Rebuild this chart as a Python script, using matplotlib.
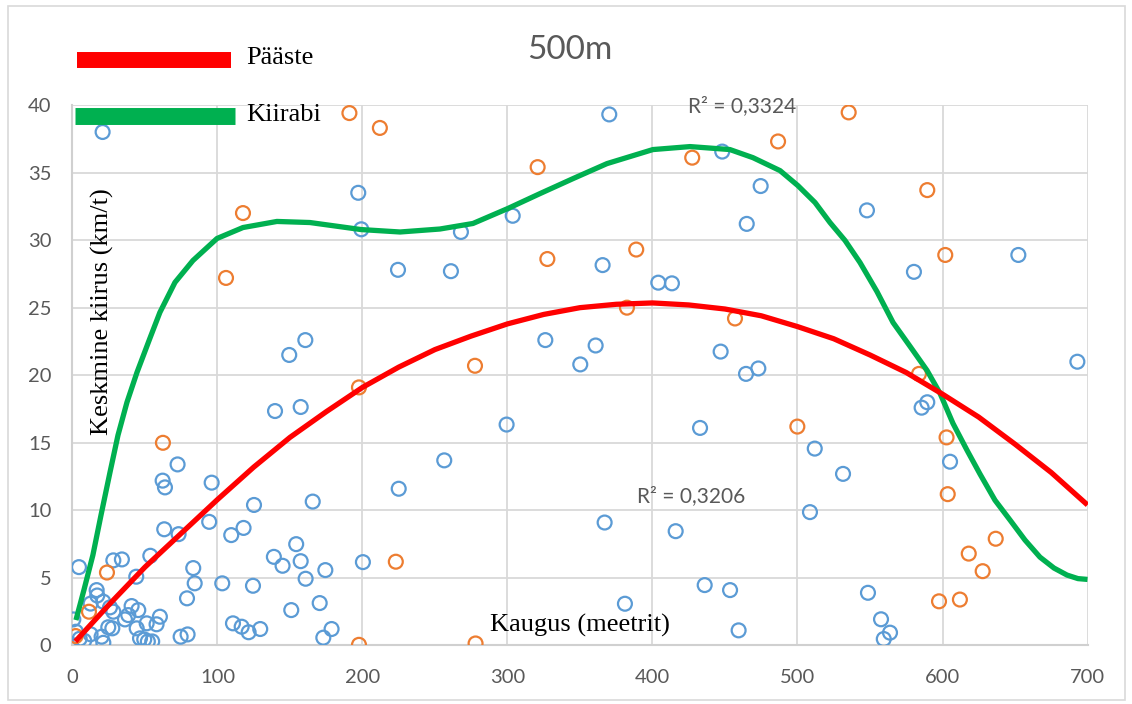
import numpy as np
import matplotlib.pyplot as plt
from matplotlib.lines import Line2D
from matplotlib.patches import Rectangle

# Kiirabi (ambulance) trips: distance in m, mean speed in km/h
kiirabi_x = [20.8, 197.1, 199.2, 224.5, 160.6, 149.5, 139.7, 157.4, 72.5, 62.2,
             63.8, 96.0, 125.2, 165.7, 225.0, 63.3, 73.2, 94.3, 109.5, 118.0,
             154.3, 138.9, 144.9, 157.4, 160.8, 174.4, 200.3, 53.7, 34.1, 28.2,
             4.5, 44.0, 83.3, 84.3, 103.3, 124.5, 79.0, 150.9, 170.5, 110.7,
             116.7, 121.5, 129.5, 178.7, 173.0, 74.6, 79.4,
             370.2, 448.1, 303.6, 267.9, 261.0, 365.6, 404.0, 413.4, 326.1, 360.8,
             350.2, 447.0, 474.6, 465.0, 547.9, 580.3, 652.3, 693.0, 464.5, 473.0,
             299.4, 256.4, 432.8, 367.0, 416.0, 381.0, 436.0, 453.5, 585.6, 589.5,
             511.9, 531.4, 605.2, 508.6, 459.4, 548.6, 557.6, 563.8, 559.5,
             16.7, 17.1, 12.5, 21.3, 25.9, 28.2, 40.8, 45.4, 38.5, 36.2,
             51.2, 44.3, 60.3, 58.0, 24.7, 27.5, 46.6, 49.5, 52.0, 55.0,
             21.3, 8.1, 0.6, 2.4, 12.5, 20.1, 5.0]
kiirabi_y = [38.0, 33.5, 30.8, 27.8, 22.6, 21.5, 17.35, 17.65, 13.4, 12.2,
             11.7, 12.05, 10.4, 10.65, 11.6, 8.6, 8.24, 9.15, 8.17, 8.7,
             7.5, 6.56, 5.9, 6.24, 4.94, 5.58, 6.17, 6.64, 6.37, 6.3,
             5.8, 5.09, 5.73, 4.6, 4.6, 4.42, 3.49, 2.62, 3.14, 1.64,
             1.39, 0.98, 1.22, 1.22, 0.58, 0.65, 0.82,
             39.3, 36.55, 31.8, 30.6, 27.7, 28.15, 26.85, 26.8, 22.6, 22.2,
             20.8, 21.75, 34.0, 31.2, 32.2, 27.65, 28.9, 21.0, 20.1, 20.5,
             16.35, 13.7, 16.1, 9.1, 8.46, 3.09, 4.47, 4.1, 17.6, 18.0,
             14.57, 12.7, 13.6, 9.87, 1.12, 3.9, 1.94, 0.95, 0.48,
             4.1, 3.7, 3.1, 3.24, 2.82, 2.5, 2.92, 2.62, 2.25, 1.93,
             1.64, 1.27, 2.13, 1.57, 1.35, 1.27, 0.53, 0.45, 0.3, 0.3,
             0.2, 0.35, 1.93, 1.02, 0.83, 0.65, 0.5]

# Pääste (rescue) trips
paaste_x = [191.0, 212.0, 117.6, 105.9, 62.4, 23.8, 11.4, 2.2, 197.6, 223.0,
            197.6, 278.0, 277.6, 320.8, 327.5, 388.8, 382.4, 427.4, 486.6, 535.3,
            589.5, 601.9, 456.9, 499.9, 583.8, 602.8, 603.6, 636.7, 618.1, 627.7,
            597.6, 612.0]
paaste_y = [39.4, 38.3, 32.0, 27.2, 15.0, 5.4, 2.5, 0.7, 19.1, 6.2,
            0.05, 0.15, 20.7, 35.4, 28.6, 29.3, 25.0, 36.1, 37.3, 39.45,
            33.7, 28.9, 24.2, 16.2, 20.1, 15.4, 11.2, 7.9, 6.8, 5.5,
            3.27, 3.4]

# polynomial trend lines, sampled along x
red_trend_x = [2, 25, 50, 75, 100, 125, 150, 175, 200, 225, 250, 275, 300, 325, 350,
               375, 400, 425, 450, 475, 500, 525, 550, 575, 600, 625, 650, 675, 700]
red_trend_y = [0.3, 3.0, 5.8, 8.3, 10.8, 13.2, 15.4, 17.3, 19.1, 20.6, 21.9, 22.9, 23.8,
               24.5, 25.0, 25.25, 25.35, 25.2, 24.9, 24.4, 23.6, 22.7, 21.5, 20.2, 18.6,
               16.9, 14.9, 12.8, 10.4]
green_trend_x = [2.4, 7.9, 14.1, 19.7, 25.9, 31.4, 37.6, 44.5, 53.4, 60.3, 70.7, 83.1,
                 99.7, 117.6, 141.0, 163.8, 199.0, 225.9, 253.4, 276.2, 300.3, 322.4,
                 345.2, 368.6, 400.3, 425.9, 453.4, 469.3, 488.0, 500.3, 512.1, 522.4,
                 532.8, 543.1, 554.8, 565.9, 577.6, 589.3, 598.3, 607.2, 616.9, 625.9,
                 636.2, 646.6, 656.9, 667.2, 676.9, 685.9, 693.4, 700.0]
green_trend_y = [1.88, 4.10, 6.69, 9.65, 12.82, 15.56, 18.0, 20.21, 22.73, 24.65, 26.87,
                 28.49, 30.12, 30.93, 31.38, 31.3, 30.78, 30.6, 30.82, 31.23, 32.34,
                 33.44, 34.55, 35.66, 36.7, 36.92, 36.7, 36.1, 35.14, 34.03, 32.78, 31.3,
                 29.97, 28.34, 26.19, 23.9, 22.14, 20.36, 18.66, 16.44, 14.45, 12.68,
                 10.75, 9.28, 7.80, 6.54, 5.73, 5.21, 4.95, 4.89]

r2_green = "R² = 0,3324"
r2_red = "R² = 0,3206"

sans = "Lato"
serif = "Liberation Serif"
grey = "#595959"

fig = plt.figure(figsize=(11.32, 7.04), dpi=100)
ax = fig.add_axes([0.064, 0.0831, 0.8967, 0.7678])

ax.scatter(kiirabi_x, kiirabi_y, s=100, facecolors="none", edgecolors="#5b9bd5",
           linewidths=1.6, zorder=3)
ax.scatter(paaste_x, paaste_y, s=100, facecolors="none", edgecolors="#ed7d31",
           linewidths=1.6, zorder=3)
ax.plot(green_trend_x, green_trend_y, color="#00b050", lw=3.8, zorder=4,
        solid_capstyle="butt", solid_joinstyle="round")
ax.plot(red_trend_x, red_trend_y, color="#ff0000", lw=3.8, zorder=4,
        solid_capstyle="butt", solid_joinstyle="round")

ax.set_xlim(0, 700)
ax.set_ylim(0, 40)
ax.set_xticks(np.arange(0, 701, 100))
ax.set_yticks(np.arange(0, 41, 5))
ax.grid(True, color="#d9d9d9", lw=1.3)
ax.set_axisbelow(True)
for side in ["top", "right"]:
    ax.spines[side].set_visible(False)
for side in ["left", "bottom"]:
    ax.spines[side].set_color("#d0d0d0")
    ax.spines[side].set_linewidth(1.5)
ax.tick_params(length=0, labelsize=14.5, labelcolor=grey)
ax.tick_params(axis="x", pad=17)
ax.tick_params(axis="y", pad=15)
for lbl in ax.get_xticklabels() + ax.get_yticklabels():
    lbl.set_fontfamily(sans)

ax.text(424.5, 39.88, r2_green, fontsize=15, color=grey, family=sans, va="center")
ax.text(389.3, 11.05, r2_red, fontsize=15, color=grey, family=sans, va="center")
ax.text(350, 1.5, "Kaugus (meetrit)", fontsize=19, family=serif, ha="center", va="center")
ax.text(20.5, 24.7, "Keskmine kiirus (km/t)", fontsize=19, family=serif,
        rotation=90, ha="center", va="center")

fig.text(0.503, 1 - 50 / 704, "500m", fontsize=24, color=grey, family=sans,
         ha="center", va="center")

# hand-drawn legend above the plot
W, H = 1132, 704
fig.add_artist(Line2D([77 / W, 231 / W], [1 - 60 / H] * 2, color="#ff0000", lw=11.5,
                      solid_capstyle="butt"))
fig.add_artist(Line2D([75 / W, 235 / W], [1 - 116 / H] * 2, color="#00b050", lw=12.2,
                      solid_capstyle="butt", zorder=5))
fig.text(246 / W, 1 - 58 / H, "Pääste", fontsize=19, family=serif, va="center")
fig.text(246 / W, 1 - 115 / H, "Kiirabi", fontsize=19, family=serif, va="center", zorder=5)

fig.add_artist(Rectangle((8 / W, 4 / H), 1117 / W, 694 / H, fill=False,
                         edgecolor="#d9d9d9", lw=1.2))

plt.savefig("out.png", dpi=100)
